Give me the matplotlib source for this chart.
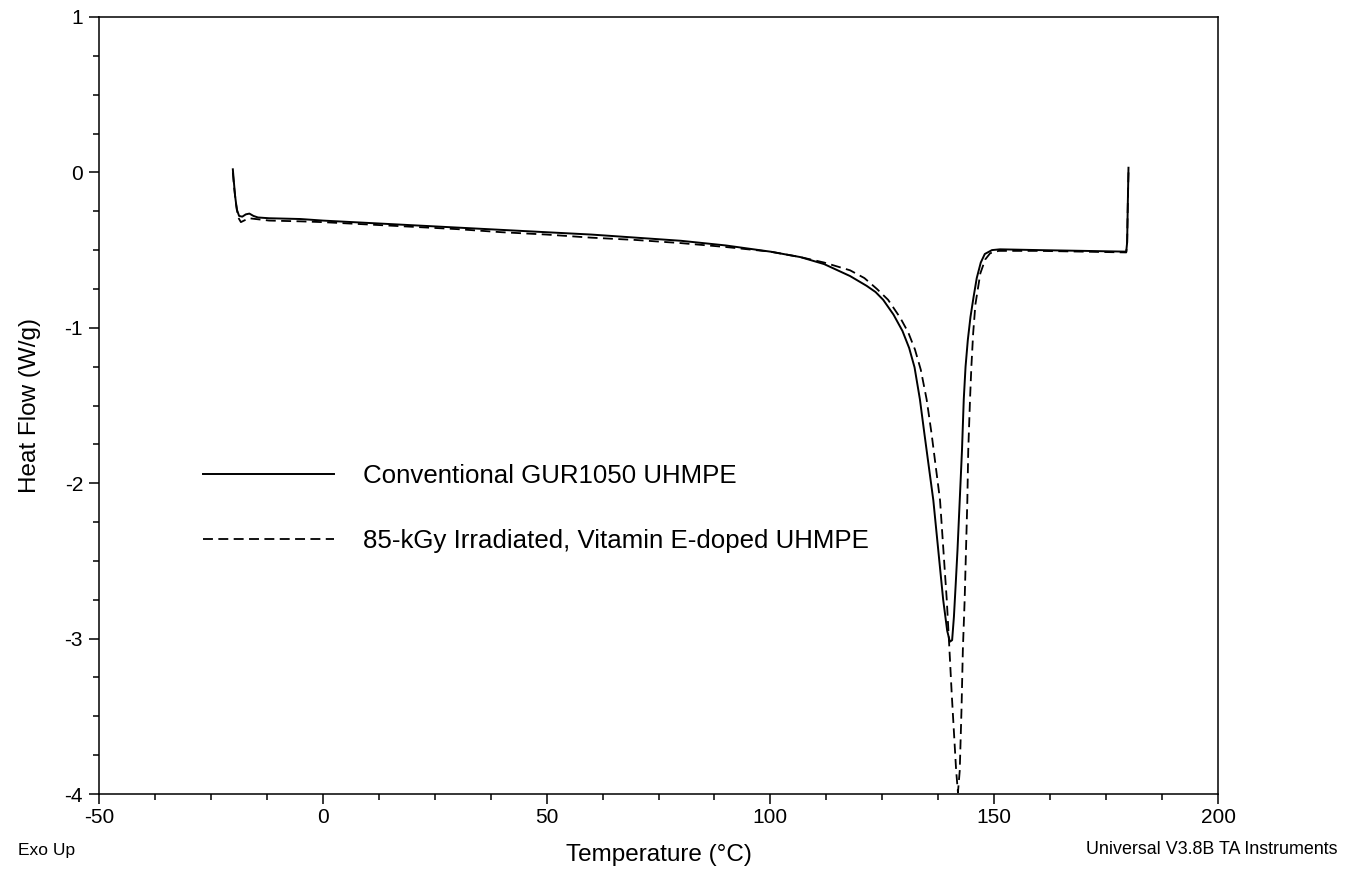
import matplotlib
matplotlib.use("Agg")
import matplotlib.pyplot as plt
from matplotlib.ticker import MultipleLocator

plt.rcParams['font.family'] = ['Liberation Sans', 'DejaVu Sans']
plt.rcParams['axes.unicode_minus'] = False

# Conventional GUR1050 UHMPE (solid)
temp_conv = [-20.1, -19.9, -19.6, -19.2, -18.7, -18.0, -17.2, -16.4, -15.5, -14.5, -12, -5, 0, 10, 20, 30, 40, 50,
             60, 70, 80, 90, 100, 106.7, 112, 117.8, 121.5, 123.5, 125.2, 127.5, 129.5, 131.0, 132.2, 133.4, 134.4,
             136.4, 138.6, 139.5, 140.1, 140.6, 141.0, 141.4, 141.8, 142.3, 142.8, 143.2, 143.6, 144.1, 144.7,
             145.4, 146.1, 147.0, 147.9, 149.5, 151.3, 160, 170, 179.5, 179.7, 179.85, 180.0]
hf_conv = [0.02, -0.05, -0.15, -0.24, -0.28, -0.285, -0.27, -0.265, -0.28, -0.29, -0.295, -0.30, -0.31, -0.325,
           -0.34, -0.355, -0.37, -0.385, -0.40, -0.42, -0.44, -0.47, -0.51, -0.545, -0.59, -0.667, -0.73, -0.77,
           -0.82, -0.915, -1.02, -1.13, -1.254, -1.46, -1.68, -2.11, -2.75, -2.95, -3.02, -3.01, -2.86, -2.65,
           -2.43, -2.11, -1.79, -1.46, -1.25, -1.08, -0.93, -0.80, -0.68, -0.58, -0.525, -0.50, -0.495, -0.50,
           -0.505, -0.51, -0.45, -0.2, 0.03]

# 85-kGy Irradiated, Vitamin E-doped UHMPE (dashed)
temp_vite = [-20.1, -19.8, -19.4, -18.9, -18.3, -17.6, -16.5, -15, -12, -5, 0, 10, 20, 30, 40, 50, 60, 70, 80, 90,
             100, 106.7, 112, 117.8, 121, 123.8, 126.3, 129.0, 130.8, 132.3, 133.6, 134.9, 136.0, 137.9, 139.4,
             140.0, 140.5, 141.0, 141.5, 141.9, 142.3, 142.7, 143.0, 143.4, 143.7, 144.0, 144.2, 144.6, 144.9,
             145.3, 145.8, 146.9, 148.0, 149.1, 151, 160, 170, 179.5, 179.7, 179.85, 180.0]
hf_vite = [0.0, -0.1, -0.2, -0.29, -0.32, -0.31, -0.295, -0.30, -0.31, -0.315, -0.32, -0.335, -0.35, -0.365,
           -0.385, -0.40, -0.42, -0.435, -0.455, -0.48, -0.51, -0.545, -0.58, -0.63, -0.68, -0.75, -0.82, -0.935,
           -1.03, -1.14, -1.27, -1.46, -1.68, -2.11, -2.75, -3.07, -3.35, -3.60, -3.85, -3.99, -3.85, -3.45,
           -3.07, -2.75, -2.43, -2.11, -1.79, -1.46, -1.25, -1.035, -0.85, -0.65, -0.56, -0.52, -0.505, -0.505,
           -0.51, -0.515, -0.45, -0.2, 0.0]

labels = ["Conventional GUR1050 UHMPE", "85-kGy Irradiated, Vitamin E-doped UHMPE"]

fig = plt.figure(figsize=(13.58, 8.69), dpi=100)
ax = fig.add_axes([99/1358, 1-794/869, (1218-99)/1358, (794-17)/869])

ax.plot(temp_conv, hf_conv, color='black', lw=1.4, label=labels[0])
ax.plot(temp_vite, hf_vite, color='black', lw=1.3, linestyle=(0, (5.5, 3)), label=labels[1])

ax.set_xlim(-50, 200)
ax.set_ylim(-4, 1)
ax.xaxis.set_major_locator(MultipleLocator(50))
ax.xaxis.set_minor_locator(MultipleLocator(12.5))
ax.yaxis.set_major_locator(MultipleLocator(1))
ax.yaxis.set_minor_locator(MultipleLocator(0.25))
ax.tick_params(which='both', direction='out', top=False, right=False, labelsize=15, width=1.1)
ax.tick_params(which='major', length=7, pad=3)
ax.tick_params(which='minor', length=4.5)
ax.tick_params(axis='y', which='major', pad=4.5)
for s in ax.spines.values():
    s.set_linewidth(1.1)

ax.set_xlabel("Temperature (°C)", fontsize=17.5, labelpad=12.5)
ax.set_ylabel("Heat Flow (W/g)", fontsize=17.5, labelpad=17)

leg = ax.legend(loc='upper left', bbox_to_anchor=(203/1358, 1-464/869), bbox_transform=fig.transFigure,
                frameon=False, fontsize=18.6, handlelength=5.07, handletextpad=1.12, labelspacing=1.58,
                borderpad=0, borderaxespad=0)

fig.text(18/1358, 1-850/869, "Exo Up", fontsize=12.5, va='center', ha='left')
fig.text(1338/1358, 1-850/869, "Universal V3.8B TA Instruments", fontsize=12.9, va='center', ha='right')

fig.savefig("out.png", dpi=100)
